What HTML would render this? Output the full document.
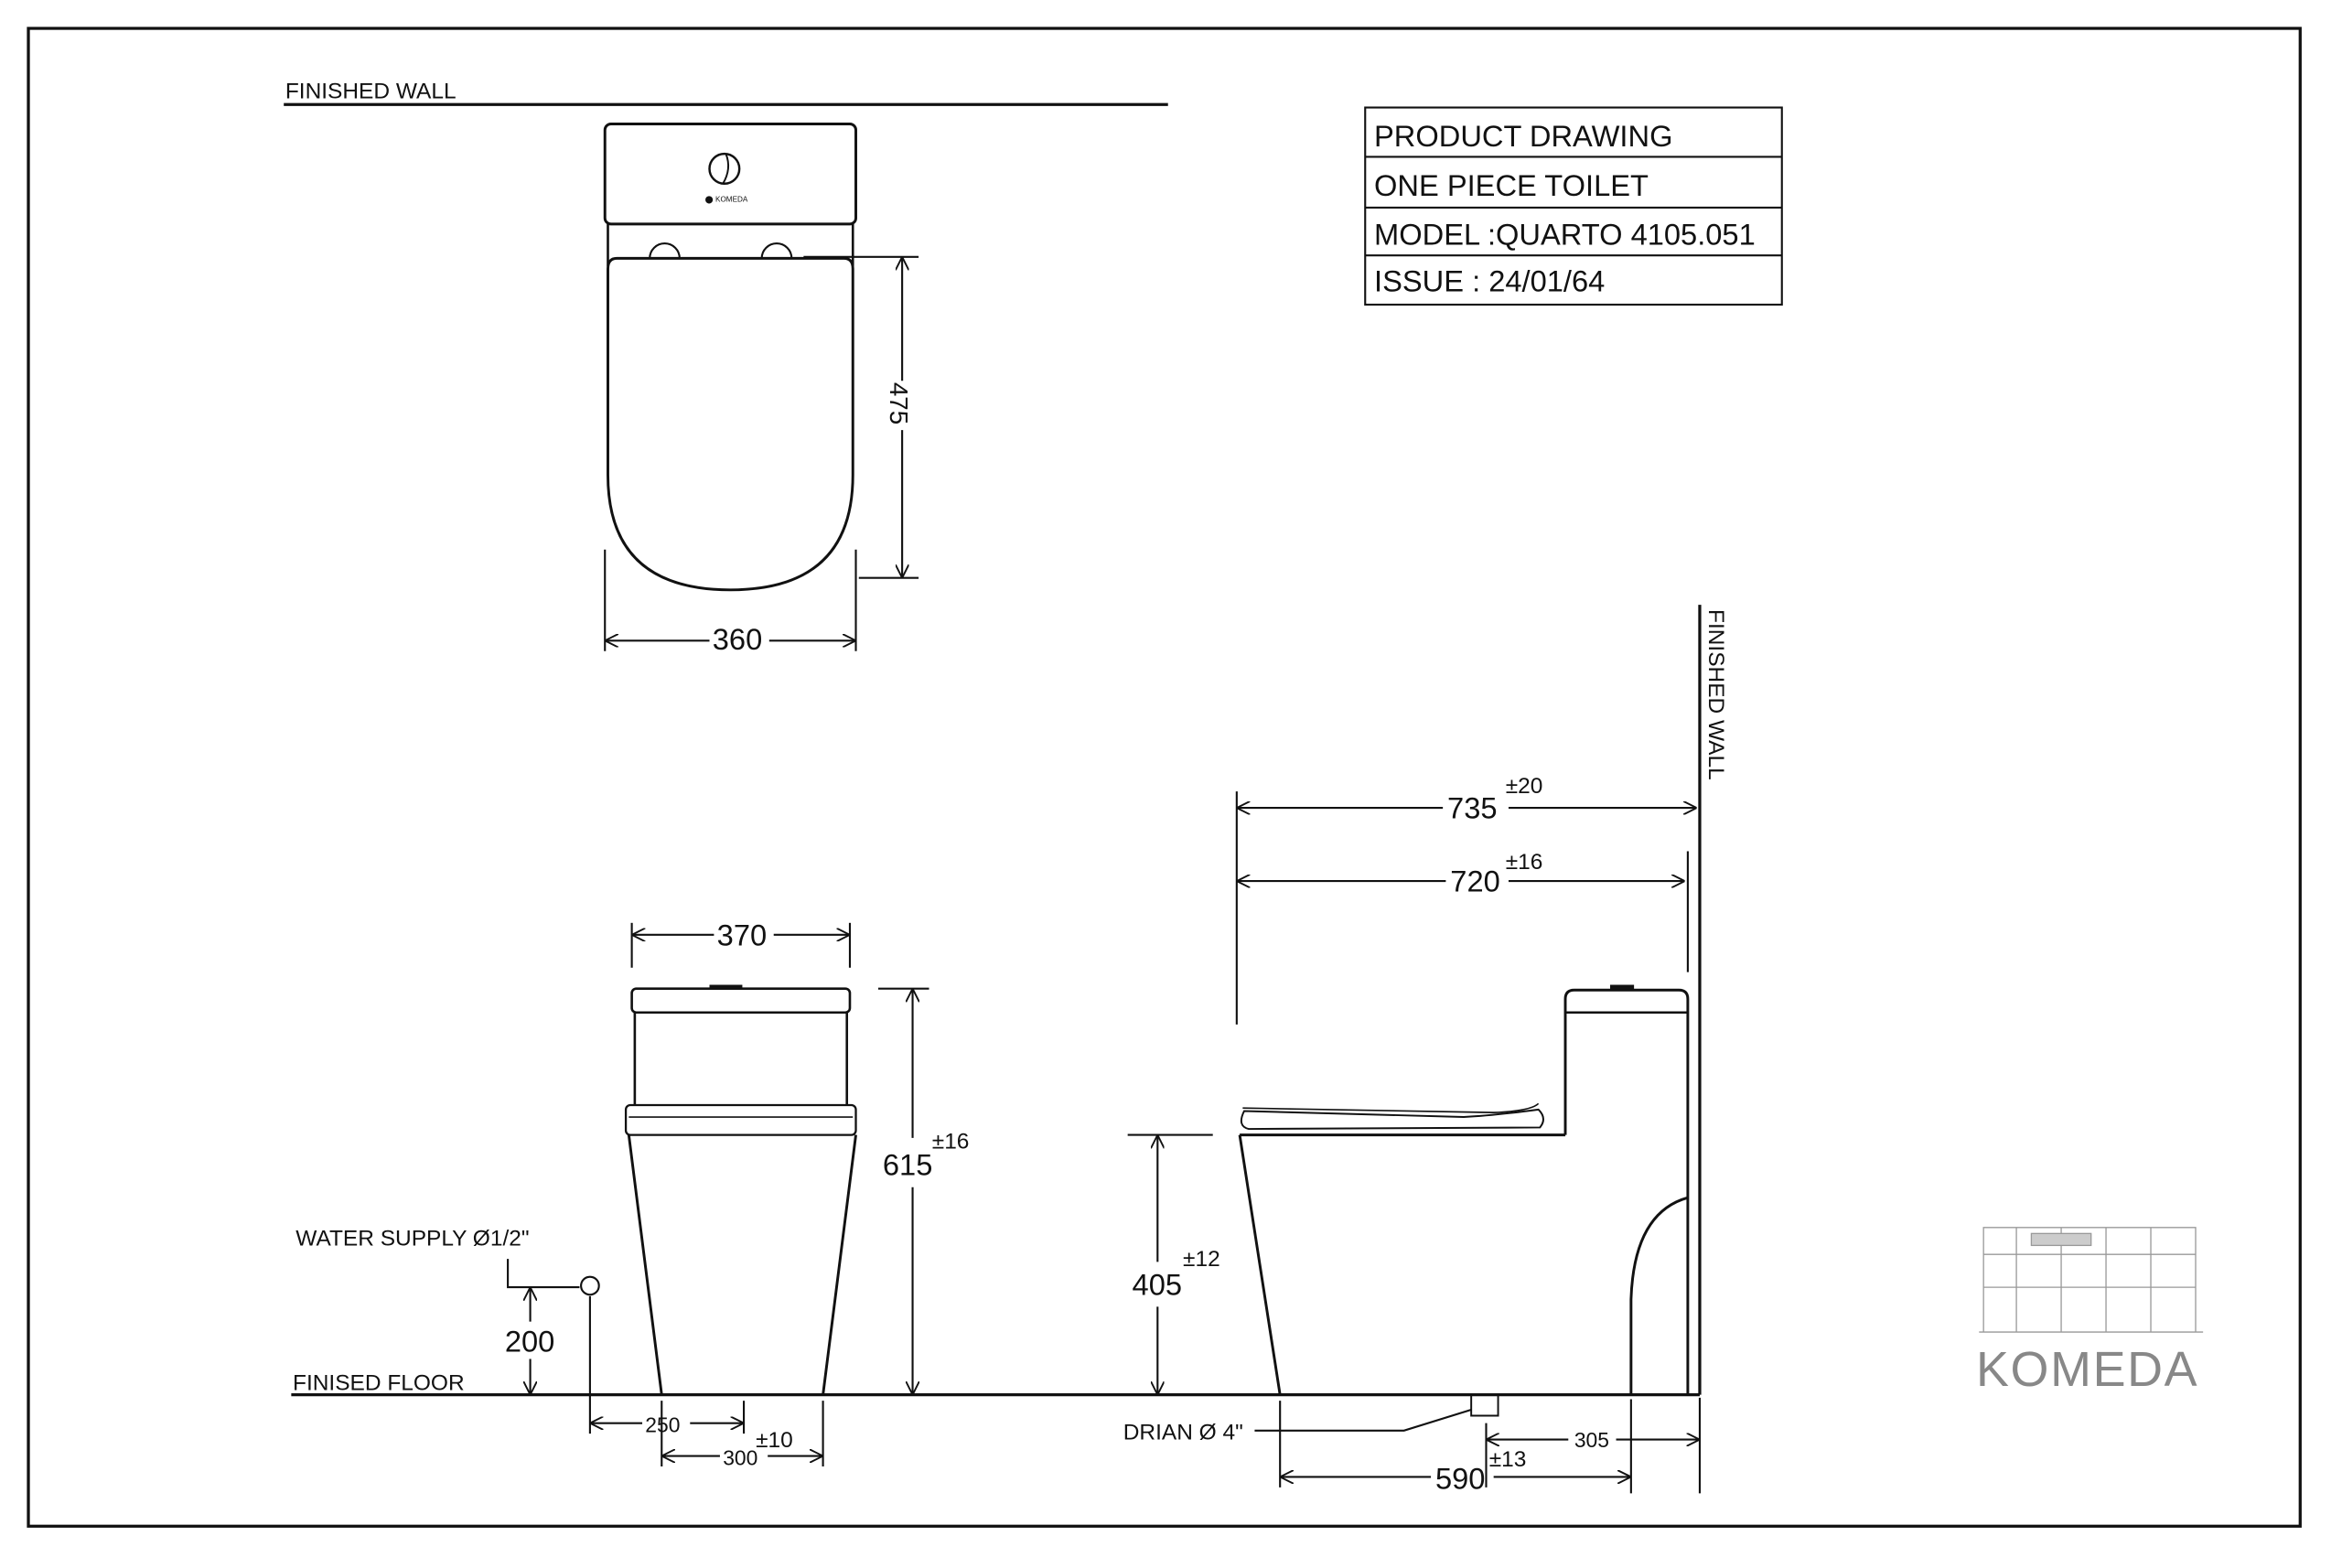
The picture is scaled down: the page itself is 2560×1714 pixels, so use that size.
<!DOCTYPE html>
<html><head><meta charset="utf-8"><style>
html,body{margin:0;padding:0;background:#fff}
svg{display:block}
text{font-family:"Liberation Sans",Arial,sans-serif;fill:#111}
</style></head><body>
<svg width="2560" height="1714" viewBox="0 0 1568 1050" preserveAspectRatio="none" xmlns="http://www.w3.org/2000/svg">
<defs>
<marker id="a" viewBox="0 0 10 10" refX="10" refY="5" markerWidth="9" markerHeight="9" orient="auto-start-reverse" markerUnits="userSpaceOnUse"><path d="M0,0 L10,5 L0,10" fill="none" stroke="#111" stroke-width="1.3"/></marker>
</defs>
<rect x="19" y="19" width="1521" height="1003" fill="none" stroke="#111" stroke-width="2"/>
<g stroke="#111" fill="none" stroke-width="1.3">
<line x1="190" y1="70" x2="782" y2="70" stroke-width="2"/>
<rect x="405" y="83" width="168" height="67" rx="4" stroke-width="1.8"/>
<line x1="407" y1="150" x2="407" y2="178" stroke-width="1.6"/>
<line x1="571" y1="150" x2="571" y2="178" stroke-width="1.6"/>
<path d="M435,173 A10,10 0 0 1 455,173 M510,173 A10,10 0 0 1 530,173"/>
<path d="M413,173 L565,173 Q571,173 571,180 L571,318 Q571,395 489,395 Q407,395 407,318 L407,180 Q407,173 413,173 Z" stroke-width="1.8"/>
<circle cx="485" cy="113" r="10" stroke-width="1.5"/>
<path d="M486,103 Q490,113 484,123" stroke-width="1.2"/>
<line x1="538" y1="172" x2="615" y2="172"/><line x1="575" y1="387" x2="615" y2="387"/>
<line x1="604" y1="172" x2="604" y2="255" marker-start="url(#a)"/><line x1="604" y1="288" x2="604" y2="387" marker-end="url(#a)"/>
<line x1="405" y1="368" x2="405" y2="436"/><line x1="573" y1="368" x2="573" y2="436"/>
<line x1="405" y1="429" x2="475" y2="429" marker-start="url(#a)"/><line x1="515" y1="429" x2="573" y2="429" marker-end="url(#a)"/>
<rect x="914" y="72" width="279" height="132"/>
<line x1="914" y1="105" x2="1193" y2="105"/><line x1="914" y1="139" x2="1193" y2="139"/><line x1="914" y1="171" x2="1193" y2="171"/>
<line x1="195" y1="934" x2="1138" y2="934" stroke-width="2"/>
<rect x="423" y="662" width="146" height="16" rx="3" stroke-width="1.6"/>
<line x1="475" y1="661" x2="497" y2="661" stroke-width="3"/>
<line x1="425" y1="678" x2="425" y2="740" stroke-width="1.6"/><line x1="567" y1="678" x2="567" y2="740" stroke-width="1.6"/>
<rect x="419" y="740" width="154" height="20" rx="3" stroke-width="1.4"/>
<line x1="421" y1="748" x2="571" y2="748" stroke-width="1"/>
<path d="M421,760 L443,934 M573,760 L551,934" stroke-width="1.8"/>
<line x1="423" y1="618" x2="423" y2="648"/><line x1="569" y1="618" x2="569" y2="648"/>
<line x1="423" y1="626" x2="478" y2="626" marker-start="url(#a)"/><line x1="518" y1="626" x2="569" y2="626" marker-end="url(#a)"/>
<line x1="588" y1="662" x2="622" y2="662"/>
<line x1="611" y1="662" x2="611" y2="762" marker-start="url(#a)"/><line x1="611" y1="795" x2="611" y2="934" marker-end="url(#a)"/>
<path d="M340,843 L340,862 L388,862"/><circle cx="395" cy="861" r="6"/>
<line x1="355" y1="862" x2="355" y2="885" marker-start="url(#a)"/><line x1="355" y1="910" x2="355" y2="934" marker-end="url(#a)"/>
<line x1="395" y1="868" x2="395" y2="960"/><line x1="498" y1="938" x2="498" y2="960"/>
<line x1="395" y1="953" x2="430" y2="953" marker-start="url(#a)"/><line x1="462" y1="953" x2="498" y2="953" marker-end="url(#a)"/>
<line x1="443" y1="938" x2="443" y2="982"/><line x1="551" y1="938" x2="551" y2="982"/>
<line x1="443" y1="975" x2="482" y2="975" marker-start="url(#a)"/><line x1="514" y1="975" x2="551" y2="975" marker-end="url(#a)"/>
<line x1="1138" y1="405" x2="1138" y2="934" stroke-width="2"/>
<line x1="1130" y1="570" x2="1130" y2="651"/>
<line x1="828" y1="530" x2="828" y2="686"/>
<line x1="828" y1="541" x2="966" y2="541" marker-start="url(#a)"/><line x1="1010" y1="541" x2="1136" y2="541" marker-end="url(#a)"/>
<line x1="828" y1="590" x2="968" y2="590" marker-start="url(#a)"/><line x1="1010" y1="590" x2="1128" y2="590" marker-end="url(#a)"/>
<path d="M1048,760 L1048,669 Q1048,663 1054,663 L1124,663 Q1130,663 1130,669 L1130,934" stroke-width="1.8"/>
<line x1="1048" y1="678" x2="1130" y2="678" stroke-width="1.6"/>
<line x1="1078" y1="661" x2="1094" y2="661" stroke-width="3"/>
<path d="M830,760 L1048,760" stroke-width="1.8"/>
<path d="M830,760 L857,934" stroke-width="1.8"/>
<path d="M1130,802 Q1094,812 1092,870 L1092,934" stroke-width="1.8"/>
<path d="M833,744 Q828,754 836,756 L1031,755 Q1036,749 1030,743 Q1000,747 980,748 L833,744 Z" stroke-width="1.2"/>
<path d="M832,742 L1000,745 Q1025,744 1030,739" stroke-width="1"/>
<line x1="755" y1="760" x2="812" y2="760"/>
<line x1="775" y1="760" x2="775" y2="845" marker-start="url(#a)"/><line x1="775" y1="875" x2="775" y2="934" marker-end="url(#a)"/>
<path d="M985,934 L985,948 L1003,948 L1003,934" stroke-width="1.2"/>
<path d="M840,958 L940,958 L985,944"/>
<line x1="857" y1="938" x2="857" y2="996"/><line x1="1092" y1="937" x2="1092" y2="1000"/>
<line x1="995" y1="953" x2="995" y2="996"/><line x1="1138" y1="936" x2="1138" y2="1000"/>
<line x1="995" y1="964" x2="1050" y2="964" marker-start="url(#a)"/><line x1="1082" y1="964" x2="1138" y2="964" marker-end="url(#a)"/>
<line x1="857" y1="989" x2="958" y2="989" marker-start="url(#a)"/><line x1="1000" y1="989" x2="1092" y2="989" marker-end="url(#a)"/>
</g>
<g stroke="#999" fill="none" stroke-width="0.8">
<path d="M1328,822 L1470,822 L1470,892 L1328,892 Z M1328,840 L1470,840 M1328,862 L1470,862 M1350,822 L1350,892 M1380,822 L1380,892 M1410,822 L1410,892 M1440,822 L1440,892 M1325,892 L1475,892"/>
<rect x="1360" y="826" width="40" height="8" fill="#ccc"/>
</g>
<g font-size="15">
<text x="191" y="66">FINISHED WALL</text>
<text x="198" y="834">WATER SUPPLY Ø1/2"</text>
<text x="196" y="931">FINISED FLOOR</text>
<text x="752" y="964">DRIAN Ø 4"</text>
</g>
<text x="472" y="135" font-size="5">⬤ KOMEDA</text>
<g font-size="20">
<text x="920" y="98">PRODUCT  DRAWING</text>
<text x="920" y="131">ONE PIECE TOILET</text>
<text x="920" y="164">MODEL :QUARTO 4105.051</text>
<text x="920" y="195">ISSUE :  24/01/64</text>
<text x="477" y="435">360</text>
<text x="480" y="633">370</text>
<text x="591" y="787">615</text>
<text x="338" y="905">200</text>
<text x="758" y="867">405</text>
<text x="969" y="548">735</text>
<text x="971" y="597">720</text>
<text x="961" y="997">590</text>
</g>
<text x="596" y="256" font-size="17" transform="rotate(90 596 256)">475</text>
<text x="1144" y="408" font-size="15" transform="rotate(90 1144 408)">FINISHED WALL</text>
<g font-size="15">
<text x="1008" y="531">±20</text>
<text x="1008" y="582">±16</text>
<text x="624" y="769">±16</text>
<text x="792" y="848">±12</text>
<text x="506" y="969">±10</text>
<text x="997" y="982">±13</text>
</g>
<g font-size="14">
<text x="432" y="959">250</text>
<text x="484" y="981">300</text>
<text x="1054" y="969">305</text>
</g>
<text x="1323" y="928" font-size="33" style="fill:#888;letter-spacing:1px">KOMEDA</text>
</svg>
</body></html>
